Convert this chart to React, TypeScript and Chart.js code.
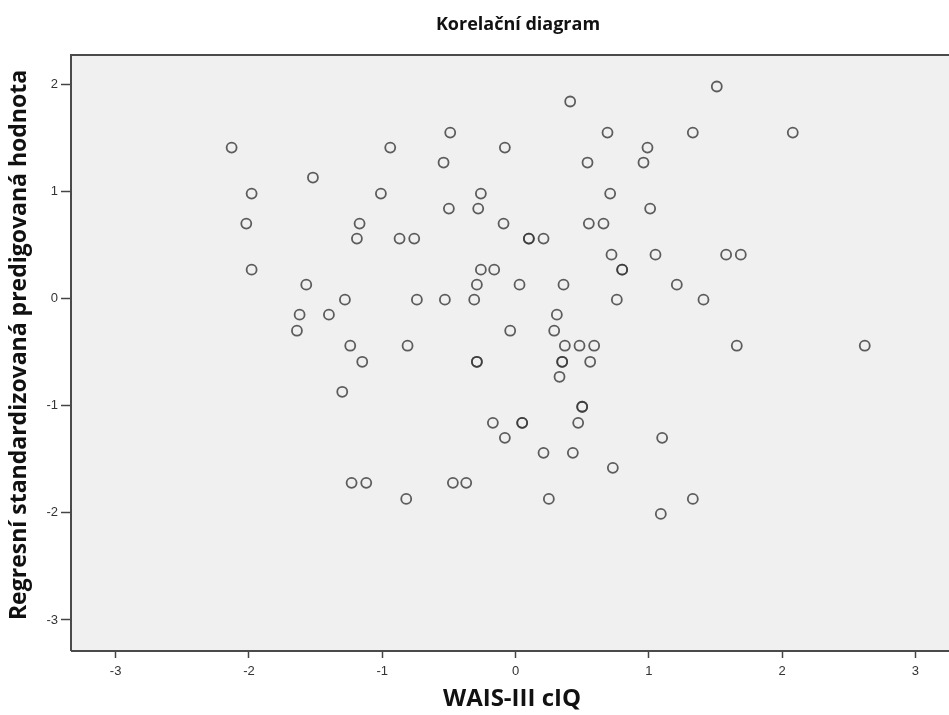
import React, { useEffect, useRef } from "react";
import { Chart, registerables } from "chart.js";

Chart.register(...registerables);

// WAIS-III cIQ (x) against the standardized predicted value (y)
const waisCiq = [
  1.51, 0.41, -0.49, 0.69, 1.33, 2.08, -2.13, -0.94, -0.08, 0.99,
  -0.54, 0.54, 0.96, -1.52, -1.98, -1.01, -0.26, 0.71, -0.5, -0.28,
  1.01, -2.02, -1.17, -0.09, 0.55, 0.66, -1.19, -0.87, -0.76, 0.1,
  0.1, 0.21, 0.72, 1.05, 1.58, 1.69, -1.98, -0.26, -0.16, 0.8,
  0.8, -1.57, -0.29, 0.03, 0.36, 1.21, -1.28, -0.74, -0.53, -0.31,
  0.76, 1.41, -1.62, -1.4, 0.31, -1.64, -0.04, 0.29, -1.24, -0.81,
  0.37, 0.48, 0.59, 1.66, 2.62, -1.15, -0.29, -0.29, 0.35, 0.35,
  0.56, 0.33, -1.3, 0.5, 0.5, -0.17, 0.05, 0.05, 0.47, -0.08,
  1.1, 0.21, 0.43, 0.73, -1.23, -1.12, -0.47, -0.37, -0.82, 0.25,
  1.33, 1.09,
];

const predicted = [
  1.98, 1.84, 1.55, 1.55, 1.55, 1.55, 1.41, 1.41, 1.41, 1.41,
  1.27, 1.27, 1.27, 1.13, 0.98, 0.98, 0.98, 0.98, 0.84, 0.84,
  0.84, 0.7, 0.7, 0.7, 0.7, 0.7, 0.56, 0.56, 0.56, 0.56,
  0.56, 0.56, 0.41, 0.41, 0.41, 0.41, 0.27, 0.27, 0.27, 0.27,
  0.27, 0.13, 0.13, 0.13, 0.13, 0.13, -0.01, -0.01, -0.01, -0.01,
  -0.01, -0.01, -0.15, -0.15, -0.15, -0.3, -0.3, -0.3, -0.44, -0.44,
  -0.44, -0.44, -0.44, -0.44, -0.44, -0.59, -0.59, -0.59, -0.59, -0.59,
  -0.59, -0.73, -0.87, -1.01, -1.01, -1.16, -1.16, -1.16, -1.16, -1.3,
  -1.3, -1.44, -1.44, -1.58, -1.72, -1.72, -1.72, -1.72, -1.87, -1.87,
  -1.87, -2.01,
];

const xTicks = [-3, -2, -1, 0, 1, 2, 3];
const yTicks = [-3, -2, -1, 0, 1, 2];

const chartTitle = "Korelační diagram";
const xTitle = "WAIS-III cIQ";
const yTitle = "Regresní standardizovaná predigovaná hodnota";

const TITLE_FONT = "'Open Sans', 'DejaVu Sans', sans-serif";

// Plot background, frame and the three text titles
const framePlugin = {
  id: "spssFrame",
  beforeDatasetsDraw(chart: any) {
    const { ctx, chartArea: a } = chart;
    ctx.save();
    ctx.fillStyle = "#f0f0f0";
    ctx.fillRect(a.left, a.top, a.right - a.left, a.bottom - a.top);
    ctx.restore();
  },
  afterDraw(chart: any) {
    const { ctx, chartArea: a } = chart;
    ctx.save();
    ctx.strokeStyle = "#4a4a4a";
    ctx.lineWidth = 2;
    ctx.beginPath();
    ctx.moveTo(a.left, a.bottom);
    ctx.lineTo(a.left, a.top);
    ctx.lineTo(a.right, a.top);
    ctx.moveTo(a.left, a.bottom);
    ctx.lineTo(a.right, a.bottom);
    ctx.stroke();

    ctx.fillStyle = "#111";
    ctx.textAlign = "center";
    ctx.textBaseline = "middle";
    ctx.font = `bold 18px ${TITLE_FONT}`;
    ctx.fillText(chartTitle, 518, 25);

    ctx.font = `bold 24px ${TITLE_FONT}`;
    ctx.fillText(xTitle, 512, 699);

    ctx.font = `bold 23px ${TITLE_FONT}`;
    ctx.translate(19, 345);
    ctx.rotate(-Math.PI / 2);
    ctx.fillText(yTitle, 0, 0);
    ctx.restore();
  },
};

export default function App() {
  const canvasRef = useRef<HTMLCanvasElement | null>(null);

  useEffect(() => {
    const canvas = canvasRef.current;
    if (!canvas) return;
    const points = waisCiq.map((x, i) => ({ x, y: predicted[i] }));
    const tickFont = { family: "'Liberation Sans', Arial, sans-serif", size: 13 };

    const chart = new Chart(canvas, {
      type: "scatter",
      data: {
        datasets: [
          {
            data: points,
            pointRadius: 5,
            pointHoverRadius: 5,
            pointBorderWidth: 1.8,
            borderColor: "rgba(55,55,55,0.8)",
            backgroundColor: "rgba(0,0,0,0)",
            pointBackgroundColor: "rgba(0,0,0,0)",
          },
        ],
      },
      options: {
        responsive: false,
        animation: false,
        layout: { autoPadding: false, padding: { top: 55, left: 0, right: 0, bottom: 0 } },
        plugins: {
          legend: { display: false },
          tooltip: { enabled: false },
          title: { display: false },
        },
        scales: {
          x: {
            type: "linear",
            min: -3.335,
            max: 3.252,
            afterBuildTicks: (s: any) => {
              s.ticks = xTicks.map((v) => ({ value: v }));
            },
            afterFit: (s: any) => {
              s.height = 64;
              s.paddingLeft = 0;
              s.paddingRight = 0;
            },
            grid: {
              drawOnChartArea: false,
              drawTicks: true,
              tickLength: 7,
              tickWidth: 1.5,
              tickColor: "#444",
            },
            border: { display: false },
            ticks: {
              color: "#333",
              font: tickFont,
              padding: 6,
              maxRotation: 0,
              callback: (v: any) => String(v),
            },
          },
          y: {
            type: "linear",
            min: -3.29,
            max: 2.274,
            afterBuildTicks: (s: any) => {
              s.ticks = yTicks.map((v) => ({ value: v }));
            },
            afterFit: (s: any) => {
              s.width = 71;
            },
            grid: {
              drawOnChartArea: false,
              drawTicks: true,
              tickLength: 10,
              tickWidth: 1.5,
              tickColor: "#444",
            },
            border: { display: false },
            ticks: {
              color: "#333",
              font: tickFont,
              padding: 3,
              callback: (v: any) => String(v),
            },
          },
        },
      },
      plugins: [framePlugin],
    });
    return () => chart.destroy();
  }, []);

  return (
    <div style={{ position: "absolute", left: 0, top: 0, width: 949, height: 715, background: "#fff" }}>
      <canvas ref={canvasRef} width={949} height={715} style={{ display: "block" }} />
    </div>
  );
}
